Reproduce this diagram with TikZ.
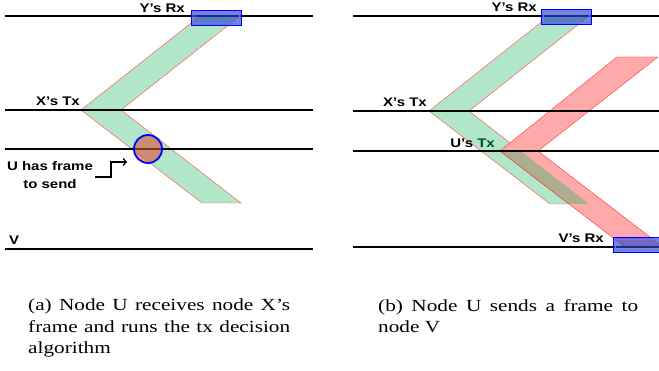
\documentclass[tikz,border=0pt]{standalone}
\usepackage{fontspec}
\setmainfont{Liberation Serif}
\newfontfamily\lblfont[FakeStretch=1.2]{Liberation Sans}
\newfontfamily\capfont[FakeStretch=1.25]{Liberation Serif}
\usetikzlibrary{arrows.meta}
\definecolor{bandgreen}{RGB}{178,230,200}
\definecolor{bandred}{RGB}{255,170,170}
\definecolor{overlapc}{RGB}{172,174,142}
\definecolor{rxblue}{RGB}{40,70,200}
\definecolor{circfill}{RGB}{220,80,60}
\definecolor{txgreen}{RGB}{0,75,35}
\begin{document}
\begin{tikzpicture}[x=1pt,y=-1pt,
  tl/.style={line width=1.8pt},
  gband/.style={fill=bandgreen, draw=red!70, line width=0.4pt},
  rband/.style={fill=bandred, draw=red!80, line width=0.4pt},
  rxbox/.style={draw=blue, line width=0.9pt, fill=rxblue, fill opacity=0.65},
  rxinner/.style={draw=blue!55, line width=0.5pt},
  lbl/.style={font=\lblfont\bfseries\fontsize{12.5}{15}\selectfont, inner sep=0pt},
  captxt/.style={font=\capfont\fontsize{17}{21.5}\selectfont, text width=#1, align=justify, inner sep=0pt, anchor=north west}]
\useasboundingbox (0,0) rectangle (659,371);
\clip (0,0) rectangle (659,371);

% ---------- left panel ----------
\path[gband] (81,110) -- (121,110) -- (240,16) -- (200,16) -- cycle;
\path[gband] (81,110) -- (121,110) -- (241,203) -- (202,203) -- cycle;

\coordinate (la1) at (5,16);   \coordinate (lb1) at (313,16);
\coordinate (la2) at (5,110);  \coordinate (lb2) at (313,110);
\coordinate (la3) at (5,149);  \coordinate (lb3) at (313,149);
\coordinate (la4) at (5,249);  \coordinate (lb4) at (313,249);
\foreach \i in {1,2,3,4} \draw[tl] (la\i) -- (lb\i);

\node[circle, draw=blue, line width=1.8pt, fill=circfill, fill opacity=0.6,
      draw opacity=1, minimum size=28pt, inner sep=0pt] (ucirc) at (148,149) {};

\path[rxbox] (191,10) rectangle (241,25);
\path[rxinner] (193,12) rectangle (239,23);

\node[lbl, anchor=base east] (lyrx) at (185,13) {Y’s Rx};
\node[lbl, anchor=base east] (lxtx) at (80,106) {X’s Tx};
\node[lbl, anchor=base] (uhf1) at (50,171) {U has frame};
\node[lbl, anchor=base] (uhf2) at (50,189) {to send};
\node[lbl, anchor=base west] (lv) at (9,245) {V};

\coordinate (ar0) at (95,177);
\coordinate (ar1) at (127,162);
\draw[line width=1.2pt, -{Straight Barb[length=3pt,width=7pt]}] (ar0) -- ++(16,0) |- (ar1);

% ---------- right panel ----------
\path[gband] (429,111) -- (469,111) -- (589,16) -- (549,16) -- cycle;
\path[gband] (429,111) -- (469,111) -- (589,204) -- (550,204) -- cycle;
\path[rband] (500,151) -- (538,151) -- (658,57) -- (617,57) -- cycle;
\path[rband] (500,151) -- (538,151) -- (663,247) -- (625,247) -- cycle;
\begin{scope}
  \clip (429,111) -- (469,111) -- (589,204) -- (550,204) -- cycle;
  \path[fill=overlapc, draw=red!80, line width=0.4pt] (500,151) -- (538,151) -- (663,247) -- (625,247) -- cycle;
\end{scope}

\coordinate (ra1) at (353,16);   \coordinate (rb1) at (659,16);
\coordinate (ra2) at (353,111);  \coordinate (rb2) at (659,111);
\coordinate (ra3) at (353,151);  \coordinate (rb3) at (659,151);
\coordinate (ra4) at (353,247);  \coordinate (rb4) at (659,247);
\foreach \i in {1,2,3,4} \draw[tl] (ra\i) -- (rb\i);

\path[rxbox] (541,9) rectangle (591,24);
\path[rxinner] (543,11) rectangle (589,22);
\path[rxbox] (613,237) rectangle (663,252);
\path[rxinner] (615,239) rectangle (661,250);

\node[lbl, anchor=base east] (ryrx) at (537,12) {Y’s Rx};
\node[lbl, anchor=base east] (rxtx) at (427,107) {X’s Tx};
\node[lbl, anchor=base east] (rutx) at (495,148) {U’s \textcolor{txgreen}{Tx}};
\node[lbl, anchor=base east] (rvrx) at (604,243) {V’s Rx};

% ---------- captions ----------
\node[captxt=262pt] (capa) at (28,299) {(a) Node U receives node X’s frame and runs the tx decision algorithm};
\node[captxt=260pt] (capb) at (378,299) {(b) Node U sends a frame to node V};
\end{tikzpicture}
\end{document}
